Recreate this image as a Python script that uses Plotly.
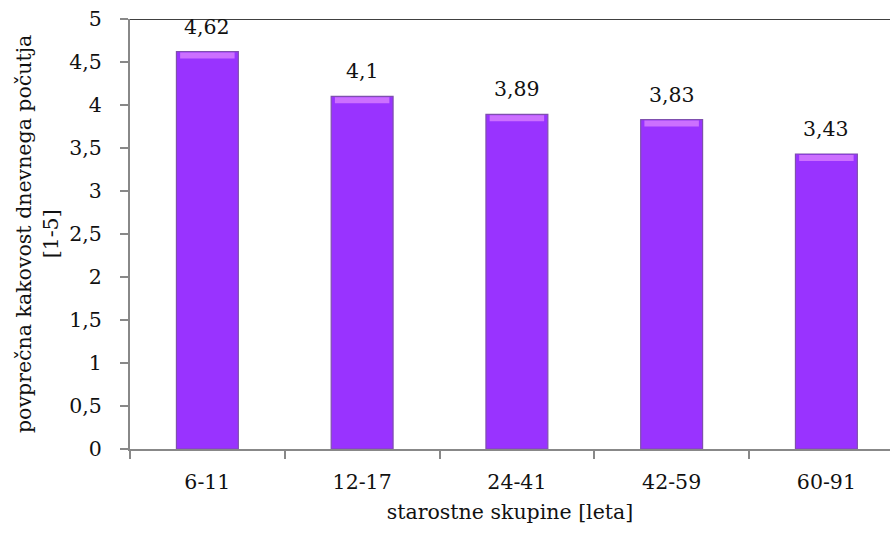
import plotly.graph_objects as go

# Average quality of daily well-being by age group
age_groups = ["6-11", "12-17", "24-41", "42-59", "60-91"]
avg_quality = [4.62, 4.1, 3.89, 3.83, 3.43]
value_labels = ["4,62", "4,1", "3,89", "3,83", "3,43"]

y_tick_vals = [0, 0.5, 1, 1.5, 2, 2.5, 3, 3.5, 4, 4.5, 5]
y_tick_text = ["0", "0,5", "1", "1,5", "2", "2,5", "3", "3,5", "4", "4,5", "5"]

FONT = "DejaVu Serif"
FSIZE = 20.5
BAR_W = 0.4
BEVEL = 0.07

fig = go.Figure()

# main bar body
fig.add_trace(go.Bar(
    x=age_groups, y=avg_quality, width=BAR_W,
    marker=dict(color="#9933FF", line=dict(color="#7F4FAE", width=1.2)),
    hoverinfo="skip",
))
# lighter bevel strip along the top of each bar
fig.add_trace(go.Bar(
    x=age_groups, y=[BEVEL] * len(avg_quality),
    base=[v - BEVEL - 0.01 for v in avg_quality], width=BAR_W * 0.88,
    marker=dict(color="#CC70FF", line=dict(width=0)),
    hoverinfo="skip",
))

for g, v, t in zip(age_groups, avg_quality, value_labels):
    fig.add_annotation(x=g, y=v, text=t, showarrow=False, yanchor="bottom",
                       yshift=11, font=dict(family=FONT, size=FSIZE, color="#111"))

# black frame line along the top of the plot area
fig.add_shape(type="line", xref="paper", yref="y", x0=0, x1=1, y0=5, y1=5,
              line=dict(color="#000", width=1.5))

# y-axis title in two lines
fig.add_annotation(
    xref="paper", yref="paper", x=(37 - 130) / 760, y=0.5,
    text="povprečna kakovost dnevnega počutja<br>[1-5]",
    textangle=-90, showarrow=False, xanchor="center", yanchor="middle",
    font=dict(family=FONT, size=FSIZE, color="#111"),
)

fig.update_layout(
    width=890, height=534,
    margin=dict(l=130, r=0, t=19, b=85),
    plot_bgcolor="white", paper_bgcolor="white",
    barmode="overlay", showlegend=False,
    font=dict(family=FONT, size=FSIZE, color="#111"),
    xaxis=dict(
        type="category", range=[-0.5, 4.411],
        showline=True, linecolor="#888", linewidth=2,
        ticks="outside", tickson="boundaries", ticklen=8, tickcolor="#888", tickwidth=2,
        ticklabelstandoff=13,
        tickfont=dict(family=FONT, size=FSIZE, color="#111"),
        title=dict(text="starostne skupine [leta]", standoff=12,
                   font=dict(family=FONT, size=FSIZE, color="#111")),
        showgrid=False, zeroline=False,
    ),
    yaxis=dict(
        range=[0, 5], tickvals=y_tick_vals, ticktext=y_tick_text,
        showline=True, linecolor="#888", linewidth=2,
        ticks="outside", ticklen=8, tickcolor="#888", tickwidth=2,
        ticklabelstandoff=14,
        tickfont=dict(family=FONT, size=FSIZE, color="#111"),
        showgrid=False, zeroline=False,
    ),
)

fig.write_html("out.html")
